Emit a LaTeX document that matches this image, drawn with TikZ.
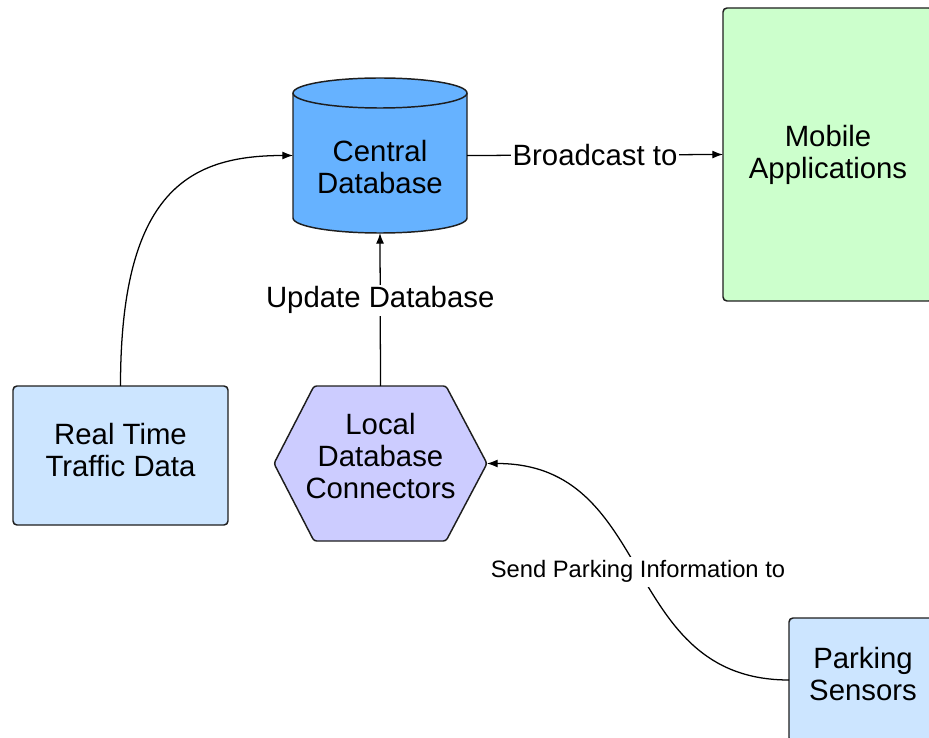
\documentclass[tikz,border=0pt]{standalone}
\usepackage{fontspec}
\setmainfont{Liberation Sans}
\usetikzlibrary{arrows.meta}
\definecolor{cylblue}{RGB}{102,178,255}
\definecolor{lightblue}{RGB}{204,229,255}
\definecolor{lavender}{RGB}{204,204,255}
\definecolor{lightgreen}{RGB}{204,255,204}
\definecolor{edgegray}{RGB}{30,30,30}
\newcommand\mainfs{\fontsize{22pt}{24pt}\selectfont}
\newcommand\smallfs{\fontsize{17.8pt}{20pt}\selectfont}
\tikzset{
  boxnode/.style={draw=edgegray, line width=1.1pt, rounded corners=3pt, outer sep=0pt, inner sep=0pt},
  ghost/.style={inner sep=0pt, outer sep=0pt},
  txt/.style={align=center, font=\mainfs, text=black},
  conn/.style={draw=black, line width=0.95pt},
  arr/.style={-{Latex[length=8pt,width=6pt]}},
  edgelabel/.style={fill=white, font=\mainfs, inner sep=1.5pt},
  smalllabel/.style={fill=white, font=\smallfs, inner sep=3pt},
}
\begin{document}
\begin{tikzpicture}[x=0.75pt,y=-0.75pt]
\useasboundingbox (0,0) rectangle (929,738);

% Central Database cylinder
\filldraw[fill=cylblue, draw=edgegray, line width=1.1pt]
  (293,93) -- (293,218) arc[start angle=180, end angle=0, x radius=87, y radius=15]
  -- (467,93) arc[start angle=0, end angle=-180, x radius=87, y radius=15] -- cycle;
\draw[edgegray, line width=1.1pt] (293,93) arc[start angle=180, end angle=0, x radius=87, y radius=15];
\node[ghost, minimum width=130.5pt, minimum height=116.25pt,
  label={[txt, yshift=-8.85pt]center:Central\\Database}] (cdb) at (380,155.5) {};

% Mobile Applications
\node[boxnode, fill=lightgreen, minimum width=157.5pt, minimum height=219.75pt,
  label={[txt]center:Mobile\\Applications}] (mob) at (828,154.5) {};

% Real Time Traffic Data
\node[boxnode, fill=lightblue, minimum width=161.25pt, minimum height=104.25pt,
  label={[txt, yshift=4.3pt]center:Real Time\\Traffic Data}] (rtt) at (120.5,455.5) {};

% Local Database Connectors hexagon
\filldraw[fill=lavender, draw=edgegray, line width=1.1pt, rounded corners=2pt]
  (314,386) -- (446,386) -- (487,463.5) -- (446,541) -- (314,541) -- (274,463.5) -- cycle;
\node[ghost, minimum width=159.75pt, minimum height=116.25pt,
  label={[txt, yshift=5.8pt]center:Local\\Database\\Connectors}] (loc) at (380.5,463.5) {};

% Parking Sensors
\node[boxnode, fill=lightblue, minimum width=111pt, minimum height=93pt,
  label={[txt, yshift=4.6pt]center:Parking\\Sensors}] (park) at (863,680) {};

% Connectors
\draw[conn, arr] (rtt.north) .. controls +(0,-196) and +(-103,0) .. (cdb.west);
\draw[conn, arr] (cdb.east) -- node[edgelabel] {Broadcast to} (mob.west);
\draw[conn, arr] (loc.north) -- node[edgelabel, pos=0.56] {Update Database} (cdb.south);
\draw[conn, arr] (park.west) .. controls +(-170,0) and +(170,0) .. node[smalllabel, pos=0.5] {Send Parking Information to} (loc.east);
\end{tikzpicture}
\end{document}
